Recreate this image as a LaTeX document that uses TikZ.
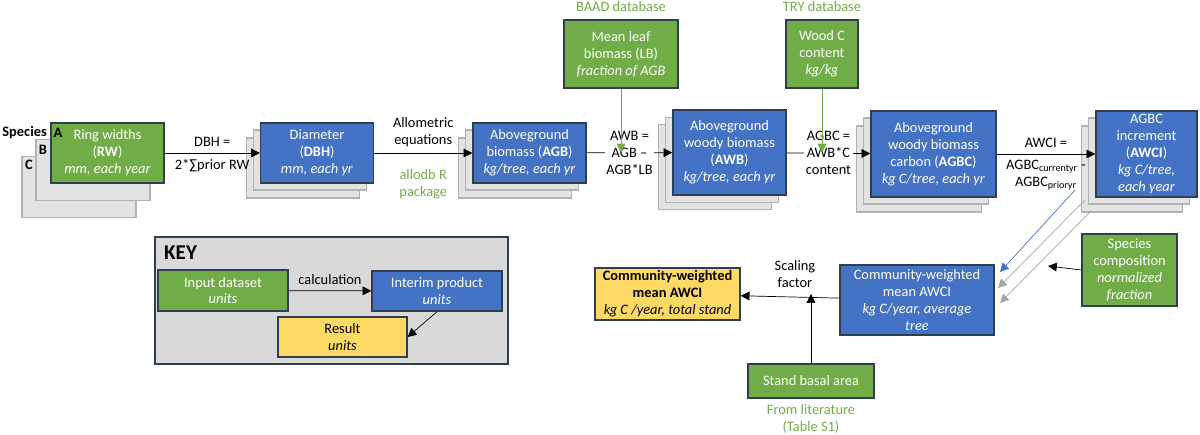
\documentclass[tikz,border=0pt]{standalone}
\usepackage{fontspec}
\setmainfont{Carlito}
\usepackage{xcolor}
\definecolor{inp}{HTML}{70AD47}
\definecolor{mid}{HTML}{4472C4}
\definecolor{res}{HTML}{FFD966}
\definecolor{edge}{HTML}{2F3F4F}
\usepackage{tikz}
\usetikzlibrary{arrows.meta}
\tikzset{
  box/.style={draw=edge, thick, align=center, inner sep=1pt, text=white},
  inbox/.style={box, fill=inp},
  midbox/.style={box, fill=mid},
  resbox/.style={box, fill=res, text=black},
  shade/.style={draw=gray!60, fill=gray!22, thick},
  flow/.style={-{Triangle[length=5pt,width=5pt]}},
  src/.style={text=inp}
}
\begin{document}
\begin{tikzpicture}[x=0.02cm, y=-0.02cm, font=\fontsize{8.2}{9.6}\selectfont]
\useasboundingbox (0,0) rectangle (1200,435);

% species stack
\node[shade, minimum width=2.28cm, minimum height=1.22cm] (rwC) at (79,187) {};
\node[shade, minimum width=2.28cm, minimum height=1.22cm] (rwB) at (93,170) {};
\node[inbox, minimum width=2.26cm, minimum height=1.2cm] (rw) at (107.5,153) {Ring widths\\(\textbf{RW})\\\textit{mm, each year}};
\node[anchor=east, font=\fontsize{8.2}{9.6}\selectfont\bfseries] (sp) at (53,133) {Species};
\node[font=\fontsize{8.2}{9.6}\selectfont\bfseries] (spA) at (58,133) {A};
\node[font=\fontsize{8.2}{9.6}\selectfont\bfseries] (spB) at (43,150) {B};
\node[font=\fontsize{8.2}{9.6}\selectfont\bfseries] (spC) at (29,165) {C};

% diameter
\node[shade, minimum width=2.26cm, minimum height=1.2cm] (dbh2) at (303,168) {};
\node[shade, minimum width=2.26cm, minimum height=1.2cm] (dbh1) at (310,160) {};
\node[midbox, minimum width=2.26cm, minimum height=1.2cm] (dbh) at (317,153) {Diameter\\(\textbf{DBH})\\\textit{mm, each yr}};

% aboveground biomass
\node[shade, minimum width=2.26cm, minimum height=1.2cm] (agb2) at (515,168) {};
\node[shade, minimum width=2.26cm, minimum height=1.2cm] (agb1) at (522,160) {};
\node[midbox, minimum width=2.26cm, minimum height=1.2cm] (agb) at (529.5,153) {Aboveground\\biomass (\textbf{AGB})\\\textit{kg/tree, each yr}};

% woody biomass
\node[shade, minimum width=2.26cm, minimum height=1.7cm] (awb2) at (715,167) {};
\node[shade, minimum width=2.26cm, minimum height=1.7cm] (awb1) at (722,160) {};
\node[midbox, minimum width=2.26cm, minimum height=1.7cm] (awb) at (729.5,152.5) {Aboveground\\woody biomass\\(\textbf{AWB})\\\textit{kg/tree, each yr}};

% carbon
\node[shade, minimum width=2.5cm, minimum height=1.72cm] (agbc2) at (919,169) {};
\node[shade, minimum width=2.5cm, minimum height=1.72cm] (agbc1) at (926,161) {};
\node[midbox, minimum width=2.5cm, minimum height=1.72cm] (agbc) at (933.5,154) {Aboveground\\woody biomass\\carbon (\textbf{AGBC})\\\textit{kg C/tree, each yr}};

% increment
\node[shade, minimum width=2.02cm, minimum height=1.72cm] (awci2) at (1132,169) {};
\node[shade, minimum width=2.02cm, minimum height=1.72cm] (awci1) at (1139,161) {};
\node[midbox, minimum width=2.02cm, minimum height=1.72cm] (awci) at (1146.5,154) {AGBC\\increment\\(\textbf{AWCI})\\\textit{kg C/tree,}\\\textit{each year}};

% databases
\node[inbox, minimum width=2.28cm, minimum height=1.36cm] (lb) at (621,54) {Mean leaf\\biomass (LB)\\\textit{fraction of AGB}};
\node[src] (baad) at (621,7) {BAAD database};
\node[inbox, minimum width=1.44cm, minimum height=1.36cm] (wc) at (822,54) {Wood C\\content\\\textit{kg/kg}};
\node[src] (try) at (822,7) {TRY database};

% community level
\node[inbox, minimum width=1.9cm, minimum height=1.44cm] (spc) at (1129.5,270) {Species\\composition\\\textit{normalized}\\\textit{fraction}};
\node[midbox, minimum width=3.08cm, minimum height=1.4cm] (cwm) at (917,300) {Community-weighted\\mean AWCI\\\textit{kg C/year, average}\\\textit{tree}};
\node[resbox, minimum width=2.9cm, minimum height=1.04cm] (stand) at (667.5,294) {\textbf{Community-weighted}\\\textbf{mean AWCI}\\\textit{kg C /year, total stand}};
\node[inbox, minimum width=2.52cm, minimum height=0.68cm] (ba) at (811,381) {Stand basal area};
\node[src, align=center] (lit) at (811,419) {From literature\\(Table S1)};

% main chain
\draw[flow] (rw) -- node[above] {DBH =} node[below] {2*∑prior RW} (dbh);
\draw[flow] (dbh) -- node[above, align=center] {Allometric\\equations} node[below=6pt, src, align=center] {allodb R\\package} (agb);
\draw[flow] (agb) -- node[align=center, fill=white, inner sep=1pt] {AWB =\\AGB –\\AGB*LB} (awb);
\draw[flow] (awb) -- node[align=center, fill=white, inner sep=1pt] {AGBC =\\AWB*C\\content} (agbc);
\draw[flow] (agbc) -- node[above] {AWCI =} node[below, align=center] {AGBC\textsubscript{currentyr} -\\AGBC\textsubscript{prioryr}} (awci);
\draw[flow, inp] (lb) -- (lb |- awb.west);
\draw[flow, inp] (wc) -- (wc |- awb.west);

% community arrows
\coordinate (d1) at (1075,190);
\coordinate (d2) at (1085,200);
\coordinate (d3) at (1090,212);
\draw[flow, mid] (d1) -- (1000,272);
\draw[flow, gray!70] (d2) -- (998,288);
\draw[flow, gray!70] (d3) -- (1000,303);
\coordinate (sc) at (1048,266);
\draw[flow] (spc.west |- 0,270) -- (sc);
\draw[flow] (cwm) -- node[above=2pt, align=center, pos=0.45] {Scaling\\factor} (stand);
\draw[flow] (ba) -- (ba |- stand.east);

% key
\draw[thick, draw=edge, fill=gray!30] (155,237) rectangle (508,364);
\node[anchor=west, font=\fontsize{12}{14}\selectfont\bfseries] (key) at (158,253) {KEY};
\node[inbox, minimum width=2.6cm, minimum height=0.82cm] (kin) at (223,290.5) {Input dataset\\\textit{units}};
\node[midbox, minimum width=2.6cm, minimum height=0.8cm] (kmid) at (437,291) {Interim product\\\textit{units}};
\node[resbox, minimum width=2.58cm, minimum height=0.8cm] (kres) at (342.5,337) {Result\\\textit{units}};
\draw[flow] (kin) -- node[above] {calculation} (kmid);
\draw[flow] (kmid.south) -- (kres.east);
\end{tikzpicture}
\end{document}
